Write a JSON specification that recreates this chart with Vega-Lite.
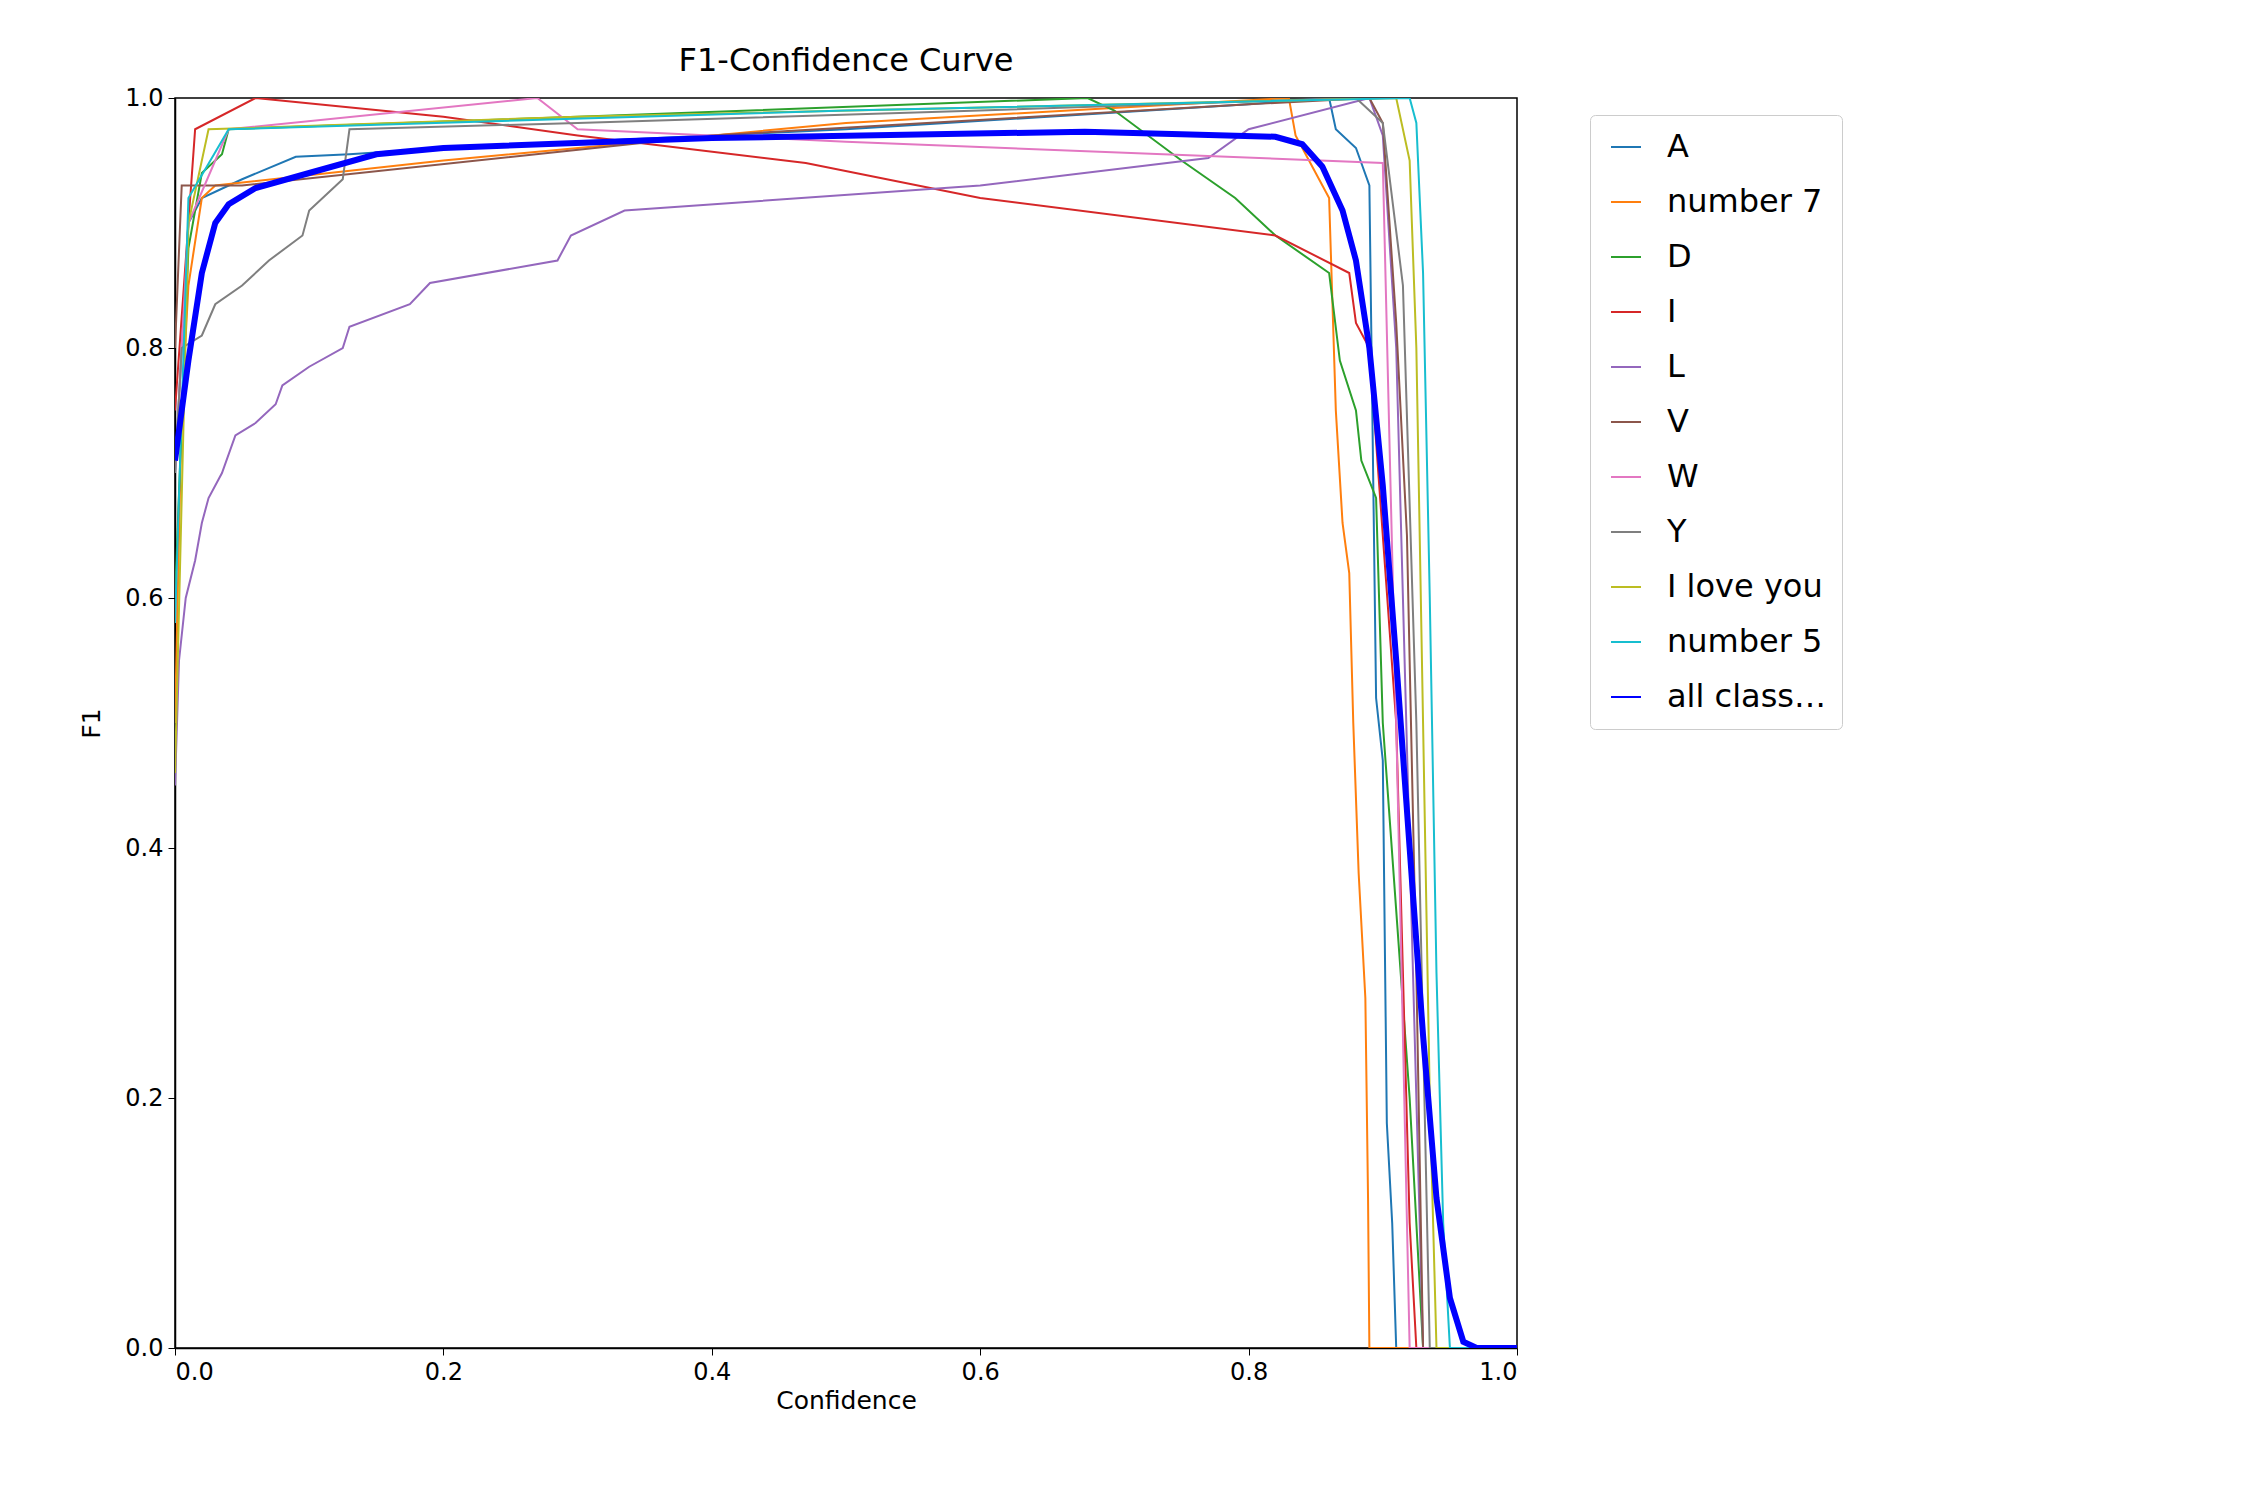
{"$schema":"https://vega.github.io/schema/vega-lite/v6.json","autosize":{"type":"none"},"padding":{"left":175,"top":98,"right":733,"bottom":152},"width":1342,"height":1250,
"title":{"text":"F1-Confidence Curve","fontSize":32,"font":"DejaVu Sans","fontWeight":"normal","offset":8},
"config":{"font":"DejaVu Sans","view":{"stroke":"black","strokeWidth":1.5},"axis":{"grid":false,"domainColor":"black","tickColor":"black","labelColor":"black","titleColor":"black","labelFontSize":24,"titleFontSize":25,"titleFontWeight":"normal","tickSize":7,"labelPadding":5,"domainWidth":1.5}},
"data":{"values":[
{"s":"A","x":0,"y":0.7},{"s":"A","x":0.01,"y":0.9},{"s":"A","x":0.02,"y":0.92},{"s":"A","x":0.05,"y":0.935},{"s":"A","x":0.09,"y":0.953},{"s":"A","x":0.13,"y":0.955},{"s":"A","x":0.2,"y":0.96},{"s":"A","x":0.5,"y":0.975},{"s":"A","x":0.8,"y":0.995},{"s":"A","x":0.86,"y":1.0},{"s":"A","x":0.865,"y":0.975},{"s":"A","x":0.88,"y":0.96},{"s":"A","x":0.89,"y":0.93},{"s":"A","x":0.895,"y":0.52},{"s":"A","x":0.9,"y":0.47},{"s":"A","x":0.903,"y":0.18},{"s":"A","x":0.907,"y":0.1},{"s":"A","x":0.91,"y":0},{"s":"A","x":1,"y":0},
{"s":"number 7","x":0,"y":0.5},{"s":"number 7","x":0.005,"y":0.75},{"s":"number 7","x":0.01,"y":0.85},{"s":"number 7","x":0.02,"y":0.92},{"s":"number 7","x":0.03,"y":0.93},{"s":"number 7","x":0.2,"y":0.95},{"s":"number 7","x":0.5,"y":0.98},{"s":"number 7","x":0.83,"y":1.0},{"s":"number 7","x":0.835,"y":0.97},{"s":"number 7","x":0.85,"y":0.94},{"s":"number 7","x":0.86,"y":0.92},{"s":"number 7","x":0.865,"y":0.75},{"s":"number 7","x":0.87,"y":0.66},{"s":"number 7","x":0.875,"y":0.62},{"s":"number 7","x":0.878,"y":0.5},{"s":"number 7","x":0.882,"y":0.38},{"s":"number 7","x":0.887,"y":0.28},{"s":"number 7","x":0.889,"y":0.12},{"s":"number 7","x":0.89,"y":0},{"s":"number 7","x":1,"y":0},
{"s":"D","x":0,"y":0.6},{"s":"D","x":0.01,"y":0.88},{"s":"D","x":0.02,"y":0.94},{"s":"D","x":0.035,"y":0.955},{"s":"D","x":0.04,"y":0.975},{"s":"D","x":0.3,"y":0.985},{"s":"D","x":0.68,"y":1.0},{"s":"D","x":0.7,"y":0.99},{"s":"D","x":0.75,"y":0.95},{"s":"D","x":0.79,"y":0.92},{"s":"D","x":0.82,"y":0.89},{"s":"D","x":0.86,"y":0.86},{"s":"D","x":0.868,"y":0.79},{"s":"D","x":0.88,"y":0.75},{"s":"D","x":0.884,"y":0.71},{"s":"D","x":0.895,"y":0.68},{"s":"D","x":0.9,"y":0.5},{"s":"D","x":0.92,"y":0.2},{"s":"D","x":0.93,"y":0},{"s":"D","x":1,"y":0},
{"s":"I","x":0,"y":0.75},{"s":"I","x":0.015,"y":0.975},{"s":"I","x":0.06,"y":1.0},{"s":"I","x":0.2,"y":0.985},{"s":"I","x":0.3,"y":0.97},{"s":"I","x":0.47,"y":0.948},{"s":"I","x":0.6,"y":0.92},{"s":"I","x":0.82,"y":0.89},{"s":"I","x":0.875,"y":0.86},{"s":"I","x":0.88,"y":0.82},{"s":"I","x":0.89,"y":0.8},{"s":"I","x":0.91,"y":0.5},{"s":"I","x":0.92,"y":0.1},{"s":"I","x":0.925,"y":0},{"s":"I","x":1,"y":0},
{"s":"L","x":0,"y":0.45},{"s":"L","x":0.003,"y":0.55},{"s":"L","x":0.008,"y":0.6},{"s":"L","x":0.015,"y":0.63},{"s":"L","x":0.02,"y":0.66},{"s":"L","x":0.025,"y":0.68},{"s":"L","x":0.035,"y":0.7},{"s":"L","x":0.045,"y":0.73},{"s":"L","x":0.06,"y":0.74},{"s":"L","x":0.075,"y":0.755},{"s":"L","x":0.08,"y":0.77},{"s":"L","x":0.1,"y":0.785},{"s":"L","x":0.125,"y":0.8},{"s":"L","x":0.13,"y":0.817},{"s":"L","x":0.175,"y":0.835},{"s":"L","x":0.19,"y":0.852},{"s":"L","x":0.285,"y":0.87},{"s":"L","x":0.295,"y":0.89},{"s":"L","x":0.335,"y":0.91},{"s":"L","x":0.6,"y":0.93},{"s":"L","x":0.77,"y":0.952},{"s":"L","x":0.8,"y":0.975},{"s":"L","x":0.89,"y":1.0},{"s":"L","x":0.9,"y":0.97},{"s":"L","x":0.91,"y":0.8},{"s":"L","x":0.92,"y":0.4},{"s":"L","x":0.93,"y":0},{"s":"L","x":1,"y":0},
{"s":"V","x":0,"y":0.8},{"s":"V","x":0.005,"y":0.93},{"s":"V","x":0.05,"y":0.93},{"s":"V","x":0.4,"y":0.97},{"s":"V","x":0.8,"y":0.995},{"s":"V","x":0.89,"y":1.0},{"s":"V","x":0.9,"y":0.98},{"s":"V","x":0.91,"y":0.82},{"s":"V","x":0.918,"y":0.65},{"s":"V","x":0.925,"y":0.3},{"s":"V","x":0.93,"y":0},{"s":"V","x":1,"y":0},
{"s":"W","x":0,"y":0.7},{"s":"W","x":0.01,"y":0.9},{"s":"W","x":0.04,"y":0.975},{"s":"W","x":0.27,"y":1.0},{"s":"W","x":0.3,"y":0.975},{"s":"W","x":0.5,"y":0.965},{"s":"W","x":0.9,"y":0.948},{"s":"W","x":0.91,"y":0.5},{"s":"W","x":0.92,"y":0},{"s":"W","x":1,"y":0},
{"s":"Y","x":0,"y":0.7},{"s":"Y","x":0.005,"y":0.8},{"s":"Y","x":0.02,"y":0.81},{"s":"Y","x":0.03,"y":0.835},{"s":"Y","x":0.05,"y":0.85},{"s":"Y","x":0.07,"y":0.87},{"s":"Y","x":0.095,"y":0.89},{"s":"Y","x":0.1,"y":0.91},{"s":"Y","x":0.12,"y":0.93},{"s":"Y","x":0.125,"y":0.935},{"s":"Y","x":0.13,"y":0.975},{"s":"Y","x":0.3,"y":0.98},{"s":"Y","x":0.6,"y":0.99},{"s":"Y","x":0.88,"y":1.0},{"s":"Y","x":0.9,"y":0.98},{"s":"Y","x":0.915,"y":0.85},{"s":"Y","x":0.925,"y":0.5},{"s":"Y","x":0.935,"y":0},{"s":"Y","x":1,"y":0},
{"s":"I love you","x":0,"y":0.46},{"s":"I love you","x":0.01,"y":0.9},{"s":"I love you","x":0.025,"y":0.975},{"s":"I love you","x":0.3,"y":0.985},{"s":"I love you","x":0.91,"y":1.0},{"s":"I love you","x":0.92,"y":0.95},{"s":"I love you","x":0.925,"y":0.8},{"s":"I love you","x":0.93,"y":0.5},{"s":"I love you","x":0.935,"y":0.2},{"s":"I love you","x":0.94,"y":0},{"s":"I love you","x":1,"y":0},
{"s":"number 5","x":0,"y":0.58},{"s":"number 5","x":0.01,"y":0.92},{"s":"number 5","x":0.04,"y":0.975},{"s":"number 5","x":0.5,"y":0.99},{"s":"number 5","x":0.92,"y":1.0},{"s":"number 5","x":0.925,"y":0.98},{"s":"number 5","x":0.93,"y":0.86},{"s":"number 5","x":0.935,"y":0.6},{"s":"number 5","x":0.94,"y":0.3},{"s":"number 5","x":0.945,"y":0.1},{"s":"number 5","x":0.95,"y":0},{"s":"number 5","x":1,"y":0},
{"s":"all classes 0.97 at 0.678","x":0,"y":0.71},{"s":"all classes 0.97 at 0.678","x":0.01,"y":0.79},{"s":"all classes 0.97 at 0.678","x":0.02,"y":0.86},{"s":"all classes 0.97 at 0.678","x":0.03,"y":0.9},{"s":"all classes 0.97 at 0.678","x":0.04,"y":0.915},{"s":"all classes 0.97 at 0.678","x":0.06,"y":0.928},{"s":"all classes 0.97 at 0.678","x":0.1,"y":0.94},{"s":"all classes 0.97 at 0.678","x":0.15,"y":0.955},{"s":"all classes 0.97 at 0.678","x":0.2,"y":0.96},{"s":"all classes 0.97 at 0.678","x":0.4,"y":0.968},{"s":"all classes 0.97 at 0.678","x":0.678,"y":0.973},{"s":"all classes 0.97 at 0.678","x":0.75,"y":0.971},{"s":"all classes 0.97 at 0.678","x":0.82,"y":0.969},{"s":"all classes 0.97 at 0.678","x":0.84,"y":0.963},{"s":"all classes 0.97 at 0.678","x":0.855,"y":0.945},{"s":"all classes 0.97 at 0.678","x":0.87,"y":0.91},{"s":"all classes 0.97 at 0.678","x":0.88,"y":0.87},{"s":"all classes 0.97 at 0.678","x":0.89,"y":0.8},{"s":"all classes 0.97 at 0.678","x":0.9,"y":0.69},{"s":"all classes 0.97 at 0.678","x":0.91,"y":0.55},{"s":"all classes 0.97 at 0.678","x":0.92,"y":0.4},{"s":"all classes 0.97 at 0.678","x":0.93,"y":0.25},{"s":"all classes 0.97 at 0.678","x":0.94,"y":0.12},{"s":"all classes 0.97 at 0.678","x":0.95,"y":0.04},{"s":"all classes 0.97 at 0.678","x":0.96,"y":0.005},{"s":"all classes 0.97 at 0.678","x":0.97,"y":0},{"s":"all classes 0.97 at 0.678","x":1,"y":0}
]},
"mark":{"type":"line","interpolate":"linear","clip":true},
"encoding":{
"x":{"field":"x","type":"quantitative","title":"Confidence","scale":{"domain":[0,1],"nice":false},"axis":{"values":[0,0.2,0.4,0.6,0.8,1.0],"format":".1f"}},
"y":{"field":"y","type":"quantitative","title":"F1","scale":{"domain":[0,1],"nice":false},"axis":{"values":[0,0.2,0.4,0.6,0.8,1.0],"format":".1f","titlePadding":20}},
"color":{"field":"s","type":"nominal","sort":null,"scale":{"domain":["A","number 7","D","I","L","V","W","Y","I love you","number 5","all classes 0.97 at 0.678"],"range":["#1f77b4","#ff7f0e","#2ca02c","#d62728","#9467bd","#8c564b","#e377c2","#7f7f7f","#bcbd22","#17becf","#0000ff"]},
"legend":{"title":null,"orient":"none","legendX":1415,"legendY":17,"symbolType":"stroke","symbolSize":900,"symbolStrokeWidth":2,"labelFontSize":32,"labelColor":"black","rowPadding":23,"symbolOffset":4,"labelOffset":25,"padding":16,"strokeColor":"#cccccc","fillColor":"white","cornerRadius":5}},
"strokeWidth":{"condition":{"test":"datum.s === 'all classes 0.97 at 0.678'","value":6},"value":2},
"order":{"field":"x","type":"quantitative"}
}}
